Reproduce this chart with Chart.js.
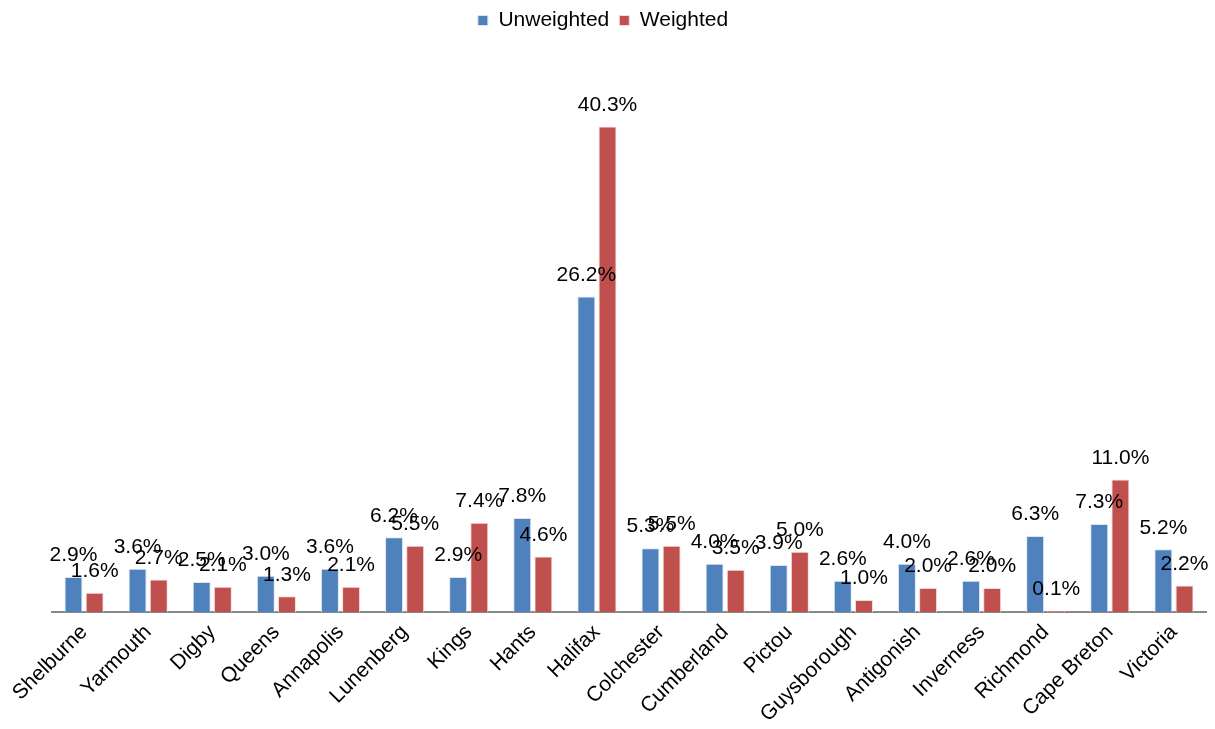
<!DOCTYPE html>
<html>
<head>
<meta charset="utf-8">
<script src="https://cdn.jsdelivr.net/npm/chart.js@4"></script>
<style>
  html, body { margin: 0; padding: 0; background: #fff; }
  #wrap { width: 1215px; height: 729px; position: relative; }
</style>
</head>
<body>
<div id="wrap"><canvas id="c"></canvas></div>
<script>
const counties = ["Shelburne", "Yarmouth", "Digby", "Queens", "Annapolis", "Lunenberg", "Kings", "Hants", "Halifax", "Colchester", "Cumberland", "Pictou", "Guysborough", "Antigonish", "Inverness", "Richmond", "Cape Breton", "Victoria"];
const unweighted = [2.9, 3.6, 2.5, 3.0, 3.6, 6.2, 2.9, 7.8, 26.2, 5.3, 4.0, 3.9, 2.6, 4.0, 2.6, 6.3, 7.3, 5.2];
const weighted = [1.6, 2.7, 2.1, 1.3, 2.1, 5.5, 7.4, 4.6, 40.3, 5.5, 3.5, 5.0, 1.0, 2.0, 2.0, 0.1, 11.0, 2.2];

const FONT = "'Liberation Sans', Arial, sans-serif";

// Percentage label drawn above every bar
const valueLabels = {
  id: 'valueLabels',
  afterDatasetsDraw(chart) {
    const ctx = chart.ctx;
    ctx.save();
    ctx.font = '21px ' + FONT;
    ctx.fillStyle = '#000';
    ctx.textAlign = 'center';
    ctx.textBaseline = 'bottom';
    chart.data.datasets.forEach((ds, i) => {
      const meta = chart.getDatasetMeta(i);
      meta.data.forEach((bar, j) => {
        ctx.fillText(ds.data[j].toFixed(1) + '%', bar.x, bar.y - 11);
      });
    });
    ctx.restore();
  }
};

new Chart(document.getElementById('c'), {
  type: 'bar',
  data: {
    labels: counties,
    datasets: [
      { label: 'Unweighted', data: unweighted, backgroundColor: '#4F81BD', borderColor: '#DCE6F2', borderWidth: 1 },
      { label: 'Weighted', data: weighted, backgroundColor: '#C0504D', borderColor: '#F2DCDB', borderWidth: 1 }
    ]
  },
  options: {
    responsive: true,
    maintainAspectRatio: false,
    animation: false,
    categoryPercentage: 0.66,
    barPercentage: 0.85,
    layout: { padding: { top: 0, right: 9, left: 0, bottom: 0 } },
    plugins: {
      legend: {
        position: 'top',
        labels: { font: { size: 21, family: FONT }, color: '#000', boxWidth: 10, boxHeight: 10, padding: 10 }
      },
      tooltip: { enabled: false }
    },
    scales: {
      x: {
        grid: { display: false, drawTicks: false },
        border: { display: true, color: '#888', width: 2 },
        ticks: { font: { size: 21, family: FONT }, color: '#000', maxRotation: 45, minRotation: 45, padding: 8, autoSkip: false },
        afterFit(scale) { scale.height = 117; }
      },
      y: {
        display: true,
        min: 0,
        max: 47.4,
        grid: { display: false, drawTicks: false },
        border: { display: false },
        ticks: { display: false },
        afterFit(scale) { scale.width = 52; }
      }
    }
  },
  plugins: [valueLabels]
});
</script>
</body>
</html>
